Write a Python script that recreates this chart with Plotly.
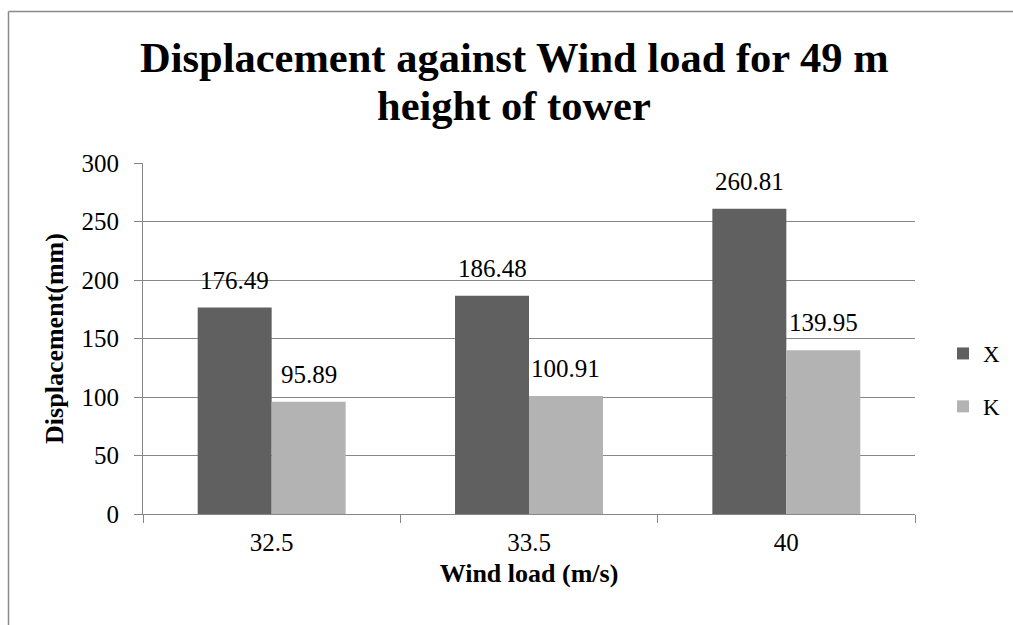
import plotly.graph_objects as go

# Wind load categories (m/s) and displacement results (mm)
wind_load = ["32.5", "33.5", "40"]
disp_x = [176.49, 186.48, 260.81]
disp_k = [95.89, 100.91, 139.95]
y_ticks = [0, 50, 100, 150, 200, 250, 300]

title_lines = ["Displacement against Wind load for 49 m", "height of tower"]
x_title = "Wind load (m/s)"
y_title = "Displacement(mm)"

FONT = "Liberation Serif"
COL_X = "#606060"
COL_K = "#b3b3b3"
GRID = "#878787"

W, H = 1013, 625
ML, MR, MT, MB = 143, 98, 163, 111
PW, PH = W - ML - MR, H - MT - MB
BARGAP = 0.425


def px_to_paper_x(px):
    return (px - ML) / PW


def px_to_paper_y(py):
    return (H - MB - py) / PH


fig = go.Figure()
fig.add_trace(go.Bar(name="X", x=wind_load, y=disp_x, marker_color=COL_X,
                     marker_line_width=0, legendgroup="X"))
fig.add_trace(go.Bar(name="K", x=wind_load, y=disp_k, marker_color=COL_K,
                     marker_line_width=0, legendgroup="K"))

# value labels above each bar, offset within the group by half a bar width
half_bar = (1 - BARGAP) / 4
annotations = []
for series, offset in ((disp_x, -half_bar), (disp_k, half_bar)):
    for i, v in enumerate(series):
        annotations.append(dict(
            x=i + offset, y=v, xref="x", yref="y", text=f"{v:.2f}",
            showarrow=False, yanchor="bottom", yshift=12,
            font=dict(family=FONT, size=25, color="black")))

# two-line chart title
for line, py in zip(title_lines, (58, 106)):
    annotations.append(dict(
        x=px_to_paper_x(514), y=px_to_paper_y(py), xref="paper", yref="paper",
        text=f"<b>{line}</b>", showarrow=False, xanchor="center", yanchor="middle",
        font=dict(family=FONT, size=42.5, color="black")))

# chart-area frame: left and top edges
frame = dict(color="#8a8a8a", width=1.5)
shapes = [
    dict(type="line", xref="paper", yref="paper",
         x0=px_to_paper_x(8.5), x1=px_to_paper_x(8.5),
         y0=px_to_paper_y(H), y1=px_to_paper_y(11.5), line=frame, layer="below"),
    dict(type="line", xref="paper", yref="paper",
         x0=px_to_paper_x(8.5), x1=px_to_paper_x(W),
         y0=px_to_paper_y(11.5), y1=px_to_paper_y(11.5), line=frame, layer="below"),
]

fig.update_layout(
    width=W, height=H,
    margin=dict(l=ML, r=MR, t=MT, b=MB, autoexpand=False),
    paper_bgcolor="white", plot_bgcolor="white",
    barmode="group", bargap=BARGAP, bargroupgap=0,
    font=dict(family=FONT, size=25, color="black"),
    showlegend=True,
    legend=dict(x=px_to_paper_x(943), y=px_to_paper_y(380), xanchor="left", yanchor="middle",
                font=dict(family=FONT, size=23, color="black"),
                tracegroupgap=20, bgcolor="rgba(0,0,0,0)"),
    annotations=annotations,
    shapes=shapes,
)

fig.update_xaxes(
    type="category", showgrid=False, showline=True, linecolor=GRID, linewidth=1,
    ticks="outside", tickson="boundaries", ticklen=8, tickcolor=GRID, tickwidth=1,
    tickfont=dict(family=FONT, size=25, color="black"), ticklabelstandoff=6,
    title=dict(text=f"<b>{x_title}</b>", font=dict(family=FONT, size=26, color="black"),
               standoff=8),
)
fig.update_yaxes(
    range=[0, 300], tickvals=y_ticks, showgrid=True, gridcolor=GRID, gridwidth=1,
    showline=True, linecolor=GRID, linewidth=1, zeroline=False,
    ticks="outside", ticklen=8, tickcolor=GRID, tickwidth=1,
    tickfont=dict(family=FONT, size=25, color="black"), ticklabelstandoff=10,
    title=dict(text=f"<b>{y_title}</b>", font=dict(family=FONT, size=26, color="black"),
               standoff=10),
)

fig.write_html("out.html")
